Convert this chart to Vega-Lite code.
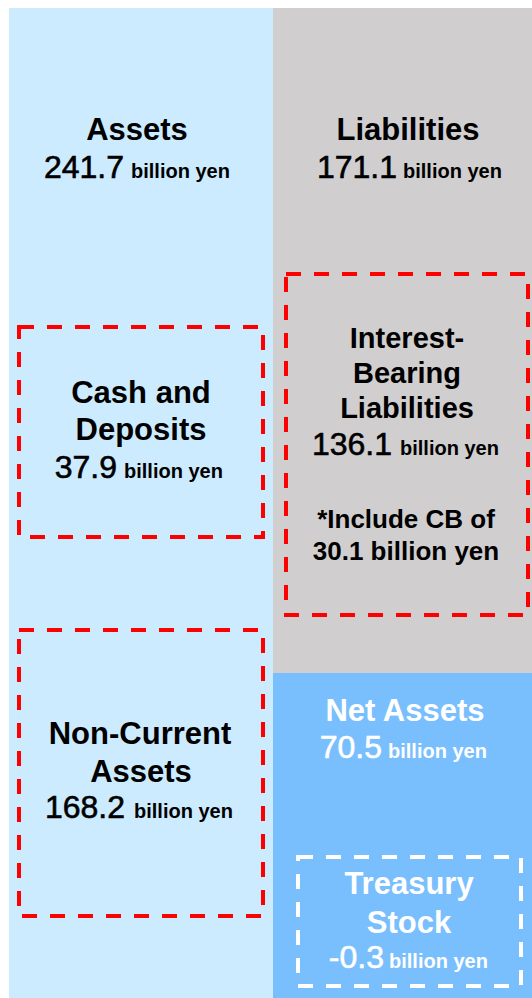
{
  "$schema": "https://vega.github.io/schema/vega-lite/v6.json",
  "width": 532,
  "height": 998,
  "autosize": {"type": "fit", "contains": "padding"},
  "padding": 0,
  "background": "#ffffff",
  "config": {"view": {"stroke": null}, "text": {"font": "Liberation Sans"}},
  "datasets": {
    "blocks": [
      {"name": "Assets", "left": 9, "right": 273, "top": 8, "bottom": 998},
      {"name": "Liabilities", "left": 273, "right": 532, "top": 8, "bottom": 673},
      {"name": "Net Assets", "left": 273, "right": 532, "top": 673, "bottom": 998}
    ],
    "boxes": [
      {"name": "Cash and Deposits", "panel": "Assets", "left": 19, "right": 263, "top": 327, "bottom": 537},
      {"name": "Interest-Bearing Liabilities", "panel": "Liabilities", "left": 286, "right": 528, "top": 274, "bottom": 615},
      {"name": "Non-Current Assets", "panel": "Assets", "left": 19, "right": 263, "top": 630, "bottom": 916},
      {"name": "Treasury Stock", "panel": "Net Assets", "left": 298, "right": 521, "top": 857, "bottom": 986}
    ],
    "lines": [
      {"text": "Assets", "x": 137, "y": 140, "panel": "Assets", "level": "h1"},
      {"text": "Liabilities", "x": 408, "y": 140, "panel": "Liabilities", "level": "h1"},
      {"text": "Cash and", "x": 141, "y": 403, "panel": "Assets", "level": "h1"},
      {"text": "Deposits", "x": 141, "y": 440, "panel": "Assets", "level": "h1"},
      {"text": "Interest-", "x": 407, "y": 348, "panel": "Liabilities", "level": "h2"},
      {"text": "Bearing", "x": 407, "y": 383, "panel": "Liabilities", "level": "h2"},
      {"text": "Liabilities", "x": 407, "y": 418, "panel": "Liabilities", "level": "h2"},
      {"text": "Non-Current", "x": 140, "y": 744, "panel": "Assets", "level": "h1"},
      {"text": "Assets", "x": 141, "y": 782, "panel": "Assets", "level": "h1"},
      {"text": "Net Assets", "x": 405, "y": 721, "panel": "Net Assets", "level": "h1"},
      {"text": "Treasury", "x": 409, "y": 894, "panel": "Net Assets", "level": "h1"},
      {"text": "Stock", "x": 409, "y": 933, "panel": "Net Assets", "level": "h1"},
      {"text": "*Include CB of", "x": 406, "y": 528, "panel": "Liabilities", "level": "note"},
      {"text": "30.1 billion yen", "x": 406, "y": 560, "panel": "Liabilities", "level": "note"},
      {"text": "241.7", "x": 124, "y": 178, "panel": "Assets", "level": "num"},
      {"text": "billion yen", "x": 131, "y": 178, "panel": "Assets", "level": "unit"},
      {"text": "171.1", "x": 397, "y": 178, "panel": "Liabilities", "level": "num"},
      {"text": "billion yen", "x": 403, "y": 178, "panel": "Liabilities", "level": "unit"},
      {"text": "37.9", "x": 117, "y": 478, "panel": "Assets", "level": "num"},
      {"text": "billion yen", "x": 124, "y": 478, "panel": "Assets", "level": "unit"},
      {"text": "136.1", "x": 392, "y": 455, "panel": "Liabilities", "level": "num"},
      {"text": "billion yen", "x": 400, "y": 455, "panel": "Liabilities", "level": "unit"},
      {"text": "168.2", "x": 125, "y": 818, "panel": "Assets", "level": "num"},
      {"text": "billion yen", "x": 134, "y": 818, "panel": "Assets", "level": "unit"},
      {"text": "70.5", "x": 382, "y": 758, "panel": "Net Assets", "level": "num"},
      {"text": "billion yen", "x": 388, "y": 758, "panel": "Net Assets", "level": "unit"},
      {"text": "-0.3", "x": 384, "y": 968, "panel": "Net Assets", "level": "num"},
      {"text": "billion yen", "x": 389, "y": 968, "panel": "Net Assets", "level": "unit"}
    ]
  },
  "encoding": {
    "x": {"field": "left", "type": "quantitative", "axis": null, "scale": {"domain": [0, 532], "nice": false, "zero": false}},
    "y": {"field": "top", "type": "quantitative", "axis": null, "scale": {"domain": [0, 998], "nice": false, "zero": false, "reverse": true}}
  },
  "layer": [
    {
      "data": {"name": "blocks"},
      "mark": {"type": "rect", "strokeWidth": 0},
      "encoding": {
        "x2": {"field": "right"},
        "y2": {"field": "bottom"},
        "fill": {"field": "name", "type": "nominal", "legend": null,
          "scale": {"domain": ["Assets", "Liabilities", "Net Assets"], "range": ["#CCEBFE", "#D0CECF", "#79BEFD"]}}
      }
    },
    {
      "data": {"name": "boxes"},
      "mark": {"type": "rect", "filled": false, "strokeWidth": 4, "strokeDash": [15, 13]},
      "encoding": {
        "x2": {"field": "right"},
        "y2": {"field": "bottom"},
        "stroke": {"field": "panel", "type": "nominal", "legend": null,
          "scale": {"domain": ["Assets", "Liabilities", "Net Assets"], "range": ["#FF0000", "#FF0000", "#FFFFFF"]}}
      }
    },
    {
      "data": {"name": "lines"},
      "transform": [{"filter": "datum.level === 'h1'"}],
      "mark": {"type": "text", "fontSize": 31, "fontWeight": "bold", "align": "center", "baseline": "alphabetic"},
      "encoding": {
        "x": {"field": "x", "type": "quantitative"},
        "y": {"field": "y", "type": "quantitative"},
        "text": {"field": "text"},
        "color": {"field": "panel", "type": "nominal", "legend": null,
          "scale": {"domain": ["Assets", "Liabilities", "Net Assets"], "range": ["#000000", "#000000", "#FFFFFF"]}}
      }
    },
    {
      "data": {"name": "lines"},
      "transform": [{"filter": "datum.level === 'h2'"}],
      "mark": {"type": "text", "fontSize": 29, "fontWeight": "bold", "align": "center", "baseline": "alphabetic"},
      "encoding": {
        "x": {"field": "x", "type": "quantitative"},
        "y": {"field": "y", "type": "quantitative"},
        "text": {"field": "text"},
        "color": {"field": "panel", "type": "nominal", "legend": null}
      }
    },
    {
      "data": {"name": "lines"},
      "transform": [{"filter": "datum.level === 'note'"}],
      "mark": {"type": "text", "fontSize": 26, "fontWeight": "bold", "align": "center", "baseline": "alphabetic"},
      "encoding": {
        "x": {"field": "x", "type": "quantitative"},
        "y": {"field": "y", "type": "quantitative"},
        "text": {"field": "text"},
        "color": {"field": "panel", "type": "nominal", "legend": null}
      }
    },
    {
      "data": {"name": "lines"},
      "transform": [{"filter": "datum.level === 'num' && datum.panel !== 'Net Assets'"}],
      "mark": {"type": "text", "fontSize": 32, "fontWeight": "normal", "align": "right", "baseline": "alphabetic", "stroke": "#000000", "strokeWidth": 0.6},
      "encoding": {
        "x": {"field": "x", "type": "quantitative"},
        "y": {"field": "y", "type": "quantitative"},
        "text": {"field": "text"},
        "color": {"field": "panel", "type": "nominal", "legend": null}
      }
    },
    {
      "data": {"name": "lines"},
      "transform": [{"filter": "datum.level === 'num' && datum.panel === 'Net Assets'"}],
      "mark": {"type": "text", "fontSize": 32, "fontWeight": "normal", "align": "right", "baseline": "alphabetic", "stroke": "#FFFFFF", "strokeWidth": 0.6},
      "encoding": {
        "x": {"field": "x", "type": "quantitative"},
        "y": {"field": "y", "type": "quantitative"},
        "text": {"field": "text"},
        "color": {"field": "panel", "type": "nominal", "legend": null}
      }
    },
    {
      "data": {"name": "lines"},
      "transform": [{"filter": "datum.level === 'unit'"}],
      "mark": {"type": "text", "fontSize": 20, "fontWeight": "bold", "align": "left", "baseline": "alphabetic"},
      "encoding": {
        "x": {"field": "x", "type": "quantitative"},
        "y": {"field": "y", "type": "quantitative"},
        "text": {"field": "text"},
        "color": {"field": "panel", "type": "nominal", "legend": null}
      }
    }
  ]
}
